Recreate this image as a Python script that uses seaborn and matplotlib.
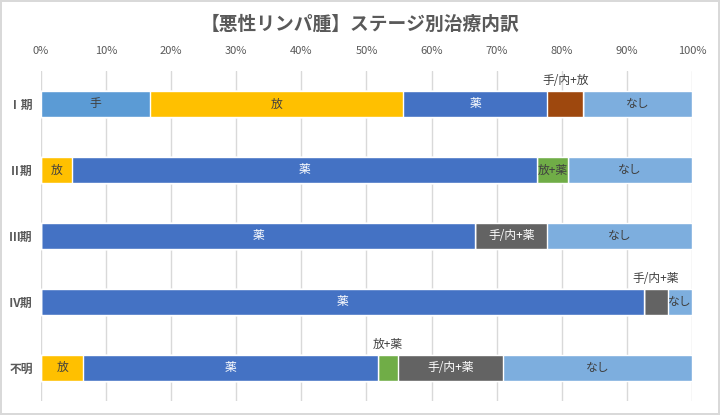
"""Stacked horizontal bar: treatment breakdown by stage (malignant lymphoma)."""
import pandas as pd
import matplotlib
matplotlib.use("Agg")
import matplotlib.pyplot as plt
import seaborn as sns

# data (percent of patients per stage)
stages = ["Ⅰ期", "Ⅱ期", "Ⅲ期", "Ⅳ期", "不明"]
treatments = ["手", "放", "薬", "手/内+放", "放+薬", "手/内+薬", "なし"]
surgery = [16.7, 0, 0, 0, 0]
radiation = [38.9, 4.8, 0, 0, 6.5]
drug = [22.2, 71.4, 66.7, 92.6, 45.2]
surg_rad = [5.5, 0, 0, 0, 0]
rad_drug = [0, 4.8, 0, 0, 3.2]
surg_drug = [0, 0, 11.1, 3.7, 16.1]
none = [16.7, 19.0, 22.2, 3.7, 29.0]

colors = ["#5B9BD5", "#FFC000", "#4472C4", "#9E480E", "#70AD47", "#636363", "#7DAEDE"]
label_colors = ["#404040", "#404040", "white", "#404040", "#404040", "white", "#404040"]

sns.set_theme(style="white")
plt.rcParams["font.family"] = ["Noto Sans CJK JP", "DejaVu Sans"]

df = pd.DataFrame(
    [surgery, radiation, drug, surg_rad, rad_drug, surg_drug, none],
    index=treatments, columns=stages,
).T
cum = df.cumsum(axis=1)
left = cum - df

fig = plt.figure(figsize=(7.2, 4.15), dpi=100)
fig.patch.set_edgecolor("#D9D9D9")
fig.patch.set_linewidth(1.5)
ax = fig.add_axes([0.057, 0.034, 0.904, 0.795])

# stacked via cumulative totals, drawn back to front
for t, c in reversed(list(zip(treatments, colors))):
    sns.barplot(x=cum[t].values, y=stages, orient="h", color=c,
                width=0.4, saturation=1, ax=ax, zorder=2)

ax.set_xlim(0, 100)
ax.set_ylim(len(stages) - 0.5, -0.5)
ax.set_xticks(range(0, 101, 10))
ax.set_xticklabels([f"{v}%" for v in range(0, 101, 10)], fontsize=8, color="#595959")
ax.xaxis.tick_top()
ax.tick_params(axis="x", length=0, pad=11)
ax.tick_params(axis="y", length=0, pad=6)
for lbl in ax.get_yticklabels():
    lbl.set_fontsize(8.5)
    lbl.set_color("#595959")
    lbl.set_fontweight("bold")
ax.grid(axis="x", color="#D9D9D9", linewidth=1, zorder=0)
ax.set_axisbelow(True)
for s in ax.spines.values():
    s.set_visible(False)
ax.set_xlabel("")
ax.set_ylabel("")

fig.suptitle("【悪性リンパ腫】ステージ別治療内訳", y=0.965, fontsize=13.5,
             color="#595959", fontweight="bold")

# data labels: inside if they fit, otherwise above the segment
fig.canvas.draw()
renderer = fig.canvas.get_renderer()
px_per_pct = ax.bbox.width / 100
for i, st in enumerate(stages):
    for t, lc in zip(treatments, label_colors):
        w = df.loc[st, t]
        if w <= 0:
            continue
        xc = left.loc[st, t] + w / 2
        txt = ax.text(xc, i, t, ha="center", va="center", fontsize=8.5,
                      color=lc, zorder=3)
        tw = txt.get_window_extent(renderer).width
        if tw > w * px_per_pct + 3:
            txt.set_y(i - 0.36)
            txt.set_color("#404040")

fig.savefig("out.png", dpi=100)
